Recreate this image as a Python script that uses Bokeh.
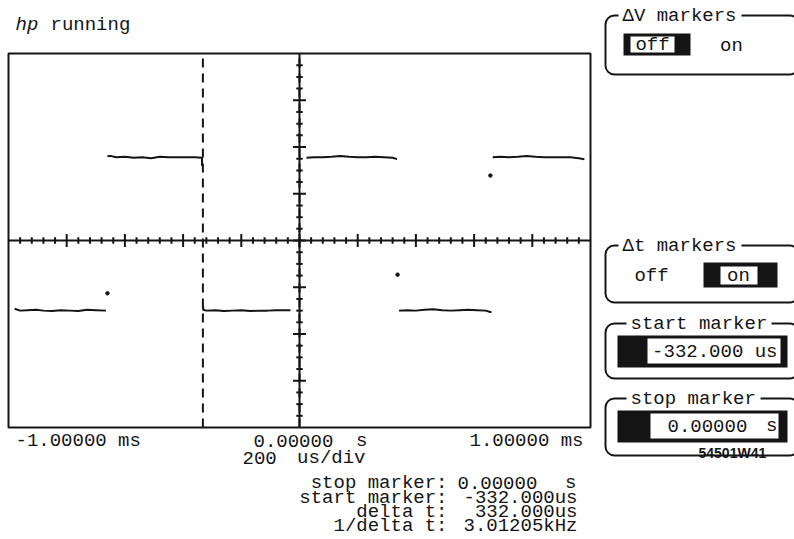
import numpy as np
from bokeh.plotting import figure
from bokeh.models import Range1d
from bokeh.core.properties import value
from bokeh.embed import file_html
from bokeh.resources import INLINE

# ---------------- scope settings ----------------
time_per_div_us = 200          # 200 us/div
h_divs, v_divs = 10, 8         # graticule divisions
h_minor, v_minor = 5, 4        # minor ticks per division
marker_times_us = [-332.0, 0.0]  # start marker, stop marker

# ---------------- captured trace: time (us), level (div) ----------------
seg1_t = [-979, -960, -935, -905, -880, -850, -820, -790, -760, -730, -700, -665]
seg1_v = [-1.46, -1.50, -1.49, -1.48, -1.50, -1.51, -1.49, -1.50, -1.51, -1.48, -1.49, -1.50]
seg2_t = [-660, -650, -630, -600, -570, -540, -510, -480, -450, -420, -390, -360, -335, -335]
seg2_v = [1.80, 1.81, 1.78, 1.79, 1.77, 1.78, 1.76, 1.79, 1.78, 1.78, 1.78, 1.78, 1.77, 1.60]
seg3_t = [-331, -331, -320, -290, -260, -230, -200, -170, -140, -110, -80, -50, -31]
seg3_v = [-1.40, -1.48, -1.50, -1.49, -1.51, -1.50, -1.49, -1.51, -1.50, -1.50, -1.49, -1.49, -1.49]
seg4_t = [24, 50, 80, 110, 140, 170, 200, 230, 260, 290, 320, 335]
seg4_v = [1.77, 1.78, 1.78, 1.79, 1.81, 1.79, 1.78, 1.78, 1.79, 1.78, 1.77, 1.74]
seg5_t = [342, 370, 400, 430, 460, 490, 520, 550, 580, 610, 640, 655, 660]
seg5_v = [-1.50, -1.49, -1.50, -1.48, -1.47, -1.49, -1.50, -1.49, -1.48, -1.49, -1.50, -1.53, -1.53]
seg6_t = [664, 690, 720, 750, 780, 810, 840, 870, 900, 930, 960, 979]
seg6_v = [1.78, 1.79, 1.78, 1.79, 1.81, 1.79, 1.78, 1.78, 1.78, 1.78, 1.76, 1.74]
dot_t = [-660, 337, 656]
dot_v = [-1.13, -0.73, 1.39]

# ---------------- screen texts ----------------
status_text = ["hp", "running"]
time_labels = ["-1.00000 ms", "0.00000", "s", "1.00000 ms"]
timebase = ["200", "us/div"]
readout_names = ["stop marker:", "start marker:", "delta t:", "1/delta t:"]
readout_values = ["0.00000", "-332.000us", "332.000us", "3.01205kHz"]
panel_titles = ["\u0394V markers", "\u0394t markers", "start marker", "stop marker"]
start_field = "-332.000 us"
stop_field = ["0.00000", "s"]
figure_id = "54501W41"

# ---------------- layout (canvas pixels, y downwards) ----------------
W, H = 794, 539
GL, GR, GT, GB = 8, 590, 53, 427       # graticule box
us_per_px = h_divs * time_per_div_us / (GR - GL)
div_per_px = v_divs / (GB - GT)
t_half = h_divs / 2 * time_per_div_us
v_half = v_divs / 2

p = figure(
    width=W, height=H,
    x_range=Range1d(-t_half - GL * us_per_px, t_half + (W - GR) * us_per_px),
    y_range=Range1d(-v_half - (H - GB) * div_per_px, v_half + GT * div_per_px),
    min_border=0, x_axis_type=None, y_axis_type=None,
    toolbar_location=None, output_backend="svg",
    outline_line_color=None, background_fill_color="white", border_fill_color="white",
)
p.extra_x_ranges = {"px": Range1d(0, W)}
p.extra_y_ranges = {"px": Range1d(H, 0)}
PX = dict(x_range_name="px", y_range_name="px")

INK = "#141414"
MONO = value("Liberation Mono")

# ---------------- graticule ----------------
p.quad(left=[-t_half], right=[t_half], bottom=[-v_half], top=[v_half],
       fill_color=None, line_color=INK, line_width=2)
p.segment(x0=[-t_half, 0], y0=[0, -v_half], x1=[t_half, 0], y1=[0, v_half],
          line_color=INK, line_width=2)

step_t = time_per_div_us / h_minor
ht = np.arange(-t_half + step_t, t_half, step_t)
h_major = np.isclose(np.mod(ht, time_per_div_us), 0) | np.isclose(np.mod(ht, time_per_div_us), time_per_div_us)
h_len = np.where(h_major, 6.5, 3.2) * div_per_px
p.segment(x0=ht, y0=-h_len, x1=ht, y1=h_len, line_color=INK, line_width=2)

step_v = 1 / v_minor
vt = np.arange(-v_half + step_v, v_half, step_v)
v_major = np.isclose(vt, np.round(vt))
v_len = np.where(v_major, 6.5, 3.2) * us_per_px
p.segment(x0=-v_len, y0=vt, x1=v_len, y1=vt, line_color=INK, line_width=2)

# ---------------- time markers ----------------
p.segment(x0=marker_times_us, y0=[-v_half] * 2, x1=marker_times_us, y1=[v_half] * 2,
          line_color=INK, line_width=2, line_dash="9 6")

# ---------------- trace ----------------
p.multi_line(xs=[seg1_t, seg2_t, seg3_t, seg4_t, seg5_t, seg6_t],
             ys=[seg1_v, seg2_v, seg3_v, seg4_v, seg5_v, seg6_v],
             line_color=INK, line_width=2, line_join="round")
p.scatter(dot_t, dot_v, size=3.5, color=INK)


def txt(x, y, s, align="left", size="19px", font=MONO, style="normal", color=INK):
    p.text(x=[x], y=[y], text=[s], text_align=align, text_baseline="middle",
           text_font=font, text_font_size=size, text_font_style=style,
           text_color=color, **PX)


# ---------------- status line ----------------
txt(15, 24, status_text[0], style="italic")
txt(50, 24, status_text[1])

# ---------------- time axis labels ----------------
txt(15, 440, time_labels[0])
txt(253, 440, time_labels[1])
txt(367, 440, time_labels[2], align="right")
txt(583, 440, time_labels[3], align="right")
txt(242, 457, timebase[0])
txt(365, 457, timebase[1], align="right")

# ---------------- marker readouts ----------------
rows_y = [482, 497, 511, 525]
for name, yy in zip(readout_names, rows_y):
    txt(447, yy, name, align="right")
txt(457, rows_y[0], readout_values[0])
txt(576, rows_y[0], "s", align="right")
for val, yy in zip(readout_values[1:], rows_y[1:]):
    txt(577, yy, val, align="right")

txt(698, 452, figure_id, size="14px", font=value("Liberation Sans"), style="bold")

# ---------------- softkey panels ----------------
pan_top = [15, 245, 323, 398]
pan_bot = [74, 302, 378, 455]
p.quad(left=[605] * 4, right=[798] * 4, top=pan_top, bottom=pan_bot,
       fill_color=None, line_color=INK, line_width=2, border_radius=9, **PX)

title_left = [622, 622, 630, 630]
gap_l = [618, 618, 626, 626]
gap_r = [741, 741, 771, 760]
p.quad(left=gap_l, right=gap_r, top=[t - 8 for t in pan_top], bottom=[t + 8 for t in pan_top],
       fill_color="white", line_color=None, **PX)
for s, x, yy in zip(panel_titles, title_left, pan_top):
    txt(x, yy, s)

# black selector fields with white highlighted entries
p.quad(left=[623, 703, 617, 617], right=[690, 777, 787, 787],
       top=[33, 262, 335, 410], bottom=[55, 287, 367, 442],
       fill_color=INK, line_color=None, **PX)
p.quad(left=[630, 720, 647, 650], right=[674, 757, 780, 778],
       top=[36, 266, 338, 413], bottom=[52, 284, 363, 438],
       fill_color="white", line_color=None, **PX)

txt(652, 44, "off", align="center")
txt(731, 45, "on", align="center")
txt(651, 275, "off", align="center")
txt(738, 275, "on", align="center")
txt(777, 351, start_field, align="right")
txt(667, 425, stop_field[0])
txt(777, 425, stop_field[1], align="right")

open("out.html", "w").write(file_html(p, INLINE))
